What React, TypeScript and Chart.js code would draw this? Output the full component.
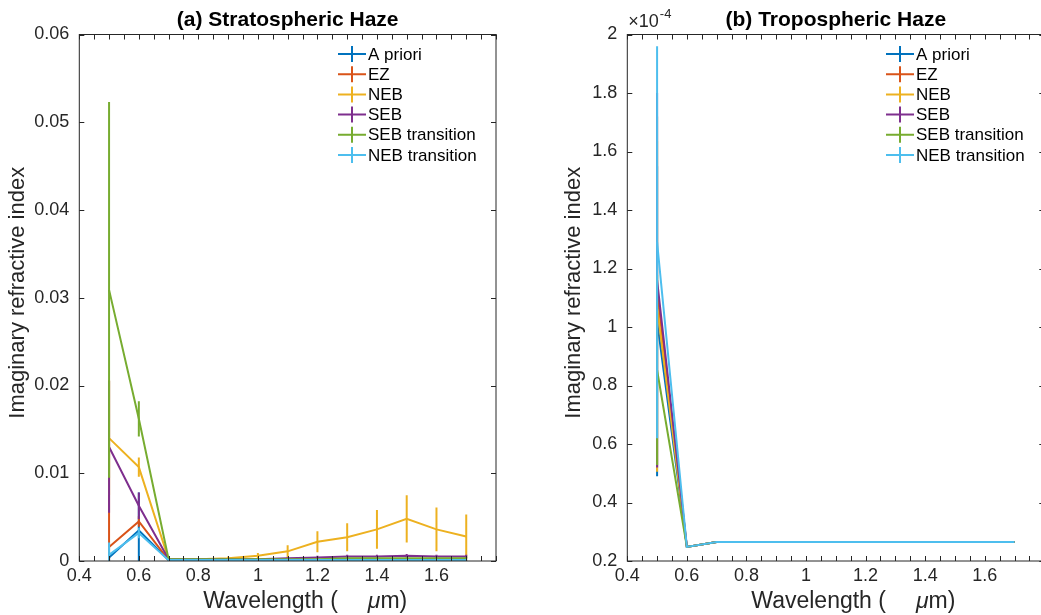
import React, { useEffect, useRef } from 'react';
import { Chart, registerables } from 'chart.js';

Chart.register(...registerables);

// ---------------- DATA ----------------
const wavelengths = [0.5, 0.6, 0.7, 0.8, 0.9, 1.0, 1.1, 1.2, 1.3, 1.4, 1.5, 1.6, 1.7];
const seriesNames = ['A priori', 'EZ', 'NEB', 'SEB', 'SEB transition', 'NEB transition'];
const seriesColors = ['#0072BD', '#D95319', '#EDB120', '#7E2F8E', '#77AC30', '#4DBEEE'];

const xTickValues = [0.4, 0.6, 0.8, 1.0, 1.2, 1.4, 1.6];
const strTickValues = [0, 0.01, 0.02, 0.03, 0.04, 0.05, 0.06];
const tropTickValues = [0.2, 0.4, 0.6, 0.8, 1.0, 1.2, 1.4, 1.6, 1.8, 2.0];

// (a) Stratospheric haze imaginary refractive index
const strAPriori = [0.0004, 0.0035, 0.0001, 0.0001, 0.0001, 0.0001, 0.0001, 0.0001, 0.0001, 0.0001, 0.0001, 0.0001, 0.0001];
const strAPrioriErr = [0.0006, 0.0043, 0.00005, 0.00005, 0.00005, 0.00005, 0.00005, 0.00005, 0.00005, 0.00005, 0.00005, 0.00005, 0.00005];
const strEZ = [0.0016, 0.0045, 0.0001, 0.0001, 0.0001, 0.0001, 0.0001, 0.0001, 0.0001, 0.0001, 0.0001, 0.0001, 0.0001];
const strEZErr = [0.019, 0.0006, 0.00005, 0.00005, 0.00005, 0.00005, 0.00005, 0.00005, 0.00005, 0.00005, 0.00005, 0.00005, 0.00005];
const strNEB = [0.0140, 0.0107, 0.0002, 0.0002, 0.0003, 0.0006, 0.0011, 0.0022, 0.0027, 0.0036, 0.0048, 0.0036, 0.0028];
const strNEBErr = [0.0065, 0.0011, 0.0001, 0.0001, 0.0002, 0.0003, 0.0007, 0.0012, 0.0016, 0.0022, 0.0027, 0.0025, 0.0025];
const strSEB = [0.0130, 0.0063, 0.0002, 0.0002, 0.0002, 0.0002, 0.0003, 0.0004, 0.0005, 0.0005, 0.0006, 0.0005, 0.0005];
const strSEBErr = [0.0075, 0.0015, 0.0001, 0.0001, 0.0001, 0.0001, 0.0001, 0.0002, 0.0002, 0.0002, 0.0002, 0.0002, 0.0002];
const strSEBTrans = [0.0309, 0.0162, 0.0002, 0.0002, 0.0002, 0.0002, 0.0002, 0.0002, 0.0003, 0.0003, 0.0003, 0.0003, 0.0003];
const strSEBTransErr = [0.0214, 0.0020, 0.0001, 0.0001, 0.0001, 0.0001, 0.0001, 0.0001, 0.0001, 0.0001, 0.0001, 0.0001, 0.0001];
const strNEBTrans = [0.0007, 0.0032, 0.0001, 0.0001, 0.0001, 0.0001, 0.0001, 0.0001, 0.0001, 0.0001, 0.0001, 0.0001, 0.0001];
const strNEBTransErr = [0.0014, 0.0006, 0.00005, 0.00005, 0.00005, 0.00005, 0.00005, 0.00005, 0.00005, 0.00005, 0.00005, 0.00005, 0.00005];

// (b) Tropospheric haze imaginary refractive index, in units of 1e-4
const trpAPriori = [1.02, 0.248, 0.265, 0.265, 0.265, 0.265, 0.265, 0.265, 0.265, 0.265, 0.265, 0.265, 0.265];
const trpAPrioriErr = [0.53, 0, 0, 0, 0, 0, 0, 0, 0, 0, 0, 0, 0];
const trpEZ = [1.12, 0.248, 0.265, 0.265, 0.265, 0.265, 0.265, 0.265, 0.265, 0.265, 0.265, 0.265, 0.265];
const trpEZErr = [0.6, 0, 0, 0, 0, 0, 0, 0, 0, 0, 0, 0, 0];
const trpNEB = [1.07, 0.248, 0.265, 0.265, 0.265, 0.265, 0.265, 0.265, 0.265, 0.265, 0.265, 0.265, 0.265];
const trpNEBErr = [0.565, 0, 0, 0, 0, 0, 0, 0, 0, 0, 0, 0, 0];
const trpSEB = [1.16, 0.248, 0.265, 0.265, 0.265, 0.265, 0.265, 0.265, 0.265, 0.265, 0.265, 0.265, 0.265];
const trpSEBErr = [0.64, 0, 0, 0, 0, 0, 0, 0, 0, 0, 0, 0, 0];
const trpSEBTrans = [0.853, 0.248, 0.265, 0.265, 0.265, 0.265, 0.265, 0.265, 0.265, 0.265, 0.265, 0.265, 0.265];
const trpSEBTransErr = [0.325, 0, 0, 0, 0, 0, 0, 0, 0, 0, 0, 0, 0];
const trpNEBTrans = [1.29, 0.248, 0.265, 0.265, 0.265, 0.265, 0.265, 0.265, 0.265, 0.265, 0.265, 0.265, 0.265];
const trpNEBTransErr = [0.67, 0, 0, 0, 0, 0, 0, 0, 0, 0, 0, 0, 0];

// ---------------- STYLE ----------------
const FONT = "'Liberation Sans', Arial, Helvetica, sans-serif";
const AX_COLOR = '#262626';
const H = 615;
const AREA_TOP = 34.5;
const AREA_BOTTOM = 561;
const TICK_FONT = 18;
const LABEL_FONT = 23;
const YLABEL_FONT = 22;
const TITLE_FONT = 21;
const LEGEND_FONT = 17;

type Panel = {
  title: string;
  canvasLeft: number;
  canvasWidth: number;
  areaLeft: number;
  areaRight: number;
  yMin: number;
  yMax: number;
  yTicks: number[];
  yDigits: number;
  values: number[][];
  errors: number[][];
  ylabelX: number;
  legendX: number;
  exponent: boolean;
};

const panels: Panel[] = [
  {
    title: '(a) Stratospheric Haze',
    canvasLeft: 0,
    canvasWidth: 520,
    areaLeft: 79.3,
    areaRight: 496,
    yMin: 0,
    yMax: 0.06,
    yTicks: strTickValues,
    yDigits: 2,
    values: [strAPriori, strEZ, strNEB, strSEB, strSEBTrans, strNEBTrans],
    errors: [strAPrioriErr, strEZErr, strNEBErr, strSEBErr, strSEBTransErr, strNEBTransErr],
    ylabelX: 18,
    legendX: 338,
    exponent: false,
  },
  {
    title: '(b) Tropospheric Haze',
    canvasLeft: 520,
    canvasWidth: 540,
    areaLeft: 107.3,
    areaRight: 524.3,
    yMin: 0.2,
    yMax: 2.0,
    yTicks: tropTickValues,
    yDigits: 1,
    values: [trpAPriori, trpEZ, trpNEB, trpSEB, trpSEBTrans, trpNEBTrans],
    errors: [trpAPrioriErr, trpEZErr, trpNEBErr, trpSEBErr, trpSEBTransErr, trpNEBTransErr],
    ylabelX: 54,
    legendX: 366,
    exponent: true,
  },
];

function makeDecor(p: Panel) {
  return {
    id: 'decor',
    afterDatasetDraw(chart: any, args: any) {
      const i = args.index;
      const xs = chart.scales.x;
      const ys = chart.scales.y;
      const ca = chart.chartArea;
      const ctx = chart.ctx;
      ctx.save();
      ctx.beginPath();
      ctx.rect(ca.left, ca.top, ca.right - ca.left, ca.bottom - ca.top);
      ctx.clip();
      ctx.strokeStyle = seriesColors[i];
      ctx.lineWidth = 2;
      ctx.beginPath();
      wavelengths.forEach((w, j) => {
        const e = p.errors[i][j];
        if (!e) return;
        const v = p.values[i][j];
        const px = xs.getPixelForValue(w);
        ctx.moveTo(px, ys.getPixelForValue(v - e));
        ctx.lineTo(px, ys.getPixelForValue(v + e));
      });
      ctx.stroke();
      ctx.restore();
    },
    afterDraw(chart: any) {
      const ctx = chart.ctx;
      const ca = chart.chartArea;
      const xs = chart.scales.x;
      const ys = chart.scales.y;
      ctx.save();
      // box
      ctx.strokeStyle = AX_COLOR;
      ctx.lineWidth = 1;
      ctx.strokeRect(ca.left, ca.top, ca.right - ca.left, ca.bottom - ca.top);
      // x ticks (major + minor every 0.05)
      ctx.beginPath();
      for (let k = 0; k <= 28; k++) {
        const v = 0.4 + k * 0.05;
        const px = Math.round(xs.getPixelForValue(v)) + 0.5;
        ctx.moveTo(px, ca.bottom);
        ctx.lineTo(px, ca.bottom - 5);
        ctx.moveTo(px, ca.top);
        ctx.lineTo(px, ca.top + 5);
      }
      p.yTicks.forEach((v) => {
        const py = Math.round(ys.getPixelForValue(v)) + 0.5;
        ctx.moveTo(ca.left, py);
        ctx.lineTo(ca.left + 5, py);
        ctx.moveTo(ca.right, py);
        ctx.lineTo(ca.right - 5, py);
      });
      ctx.stroke();

      // title
      const cx = (ca.left + ca.right) / 2;
      ctx.fillStyle = '#000';
      ctx.font = `bold ${TITLE_FONT}px ${FONT}`;
      ctx.textAlign = 'center';
      ctx.textBaseline = 'alphabetic';
      ctx.fillText(p.title, cx, 26);

      // exponent
      if (p.exponent) {
        ctx.fillStyle = AX_COLOR;
        ctx.textAlign = 'left';
        ctx.font = `${TICK_FONT}px ${FONT}`;
        ctx.fillText('×10', ca.left + 1, 27);
        const w = ctx.measureText('×10').width;
        ctx.font = `13px ${FONT}`;
        ctx.fillText('-4', ca.left + 2 + w, 18);
      }

      // x label
      ctx.fillStyle = AX_COLOR;
      const normal = `${LABEL_FONT}px ${FONT}`;
      const italic = `italic ${LABEL_FONT}px ${FONT}`;
      const p1 = 'Wavelength (';
      const p2 = 'μ';
      const p3 = 'm)';
      const gap = 30;
      ctx.font = normal;
      const w1 = ctx.measureText(p1).width;
      ctx.font = italic;
      const w2 = ctx.measureText(p2).width;
      let x0 = cx - 84.5;
      ctx.textAlign = 'left';
      ctx.textBaseline = 'alphabetic';
      ctx.font = normal;
      ctx.fillText(p1, x0, 608);
      x0 += w1 + gap;
      ctx.font = italic;
      ctx.fillText(p2, x0, 608);
      x0 += w2;
      ctx.font = normal;
      ctx.fillText(p3, x0, 608);

      // y label
      ctx.save();
      ctx.translate(p.ylabelX, (ca.top + ca.bottom) / 2 - 5);
      ctx.rotate(-Math.PI / 2);
      ctx.textAlign = 'center';
      ctx.textBaseline = 'middle';
      ctx.font = `${YLABEL_FONT}px ${FONT}`;
      ctx.fillText('Imaginary refractive index', 0, 0);
      ctx.restore();

      // legend
      seriesNames.forEach((name, i) => {
        const y = 54 + i * 20.2;
        const lx = p.legendX;
        ctx.strokeStyle = seriesColors[i];
        ctx.lineWidth = 2;
        ctx.beginPath();
        ctx.moveTo(lx, y);
        ctx.lineTo(lx + 28, y);
        ctx.moveTo(lx + 14, y - 8);
        ctx.lineTo(lx + 14, y + 8);
        ctx.stroke();
        ctx.fillStyle = '#000';
        ctx.font = `${LEGEND_FONT}px ${FONT}`;
        ctx.textAlign = 'left';
        ctx.textBaseline = 'middle';
        ctx.fillText(name, lx + 30, y + 1);
      });
      ctx.restore();
    },
  };
}

function PanelChart({ p }: { p: Panel }) {
  const ref = useRef<HTMLCanvasElement | null>(null);
  useEffect(() => {
    if (!ref.current) return;
    const chart = new Chart(ref.current, {
      type: 'line',
      data: {
        datasets: p.values.map((vals, i) => ({
          label: seriesNames[i],
          data: wavelengths.map((w, j) => ({ x: w, y: vals[j] })),
          borderColor: seriesColors[i],
          backgroundColor: seriesColors[i],
          borderWidth: 2,
          pointRadius: 0,
          fill: false,
          tension: 0,
          order: seriesNames.length - 1 - i,
        })),
      },
      options: {
        animation: false,
        responsive: false,
        maintainAspectRatio: false,
        layout: { padding: { left: 0, right: p.canvasWidth - p.areaRight, top: AREA_TOP, bottom: 0 } },
        plugins: { legend: { display: false }, tooltip: { enabled: false }, title: { display: false } },
        scales: {
          x: {
            type: 'linear',
            min: 0.4,
            max: 1.8,
            grid: { display: false, drawTicks: false },
            border: { display: false },
            afterBuildTicks: (s: any) => {
              s.ticks = xTickValues.map((v) => ({ value: v }));
            },
            afterFit: (s: any) => {
              s.height = H - AREA_BOTTOM;
            },
            ticks: {
              autoSkip: false,
              maxRotation: 0,
              padding: 4,
              color: AX_COLOR,
              font: { family: FONT, size: TICK_FONT },
              callback: (v: any) => String(+Number(v).toFixed(1)),
            },
          },
          y: {
            type: 'linear',
            min: p.yMin,
            max: p.yMax,
            grid: { display: false, drawTicks: false },
            border: { display: false },
            afterBuildTicks: (s: any) => {
              s.ticks = p.yTicks.map((v) => ({ value: v }));
            },
            afterFit: (s: any) => {
              s.width = p.areaLeft;
            },
            ticks: {
              autoSkip: false,
              padding: 10,
              color: AX_COLOR,
              font: { family: FONT, size: TICK_FONT },
              callback: (v: any) => String(+Number(v).toFixed(p.yDigits)),
            },
          },
        },
      },
      plugins: [makeDecor(p)],
    } as any);
    return () => chart.destroy();
  }, [p]);
  return (
    <canvas
      ref={ref}
      width={p.canvasWidth}
      height={H}
      style={{ position: 'absolute', left: p.canvasLeft, top: 0, width: p.canvasWidth, height: H }}
    />
  );
}

export default function App() {
  useEffect(() => {
    document.body.style.margin = '0';
    document.body.style.background = '#fff';
  }, []);
  return (
    <div style={{ position: 'relative', width: 1041, height: H, overflow: 'hidden', background: '#fff' }}>
      {panels.map((p, i) => (
        <PanelChart key={i} p={p} />
      ))}
    </div>
  );
}
